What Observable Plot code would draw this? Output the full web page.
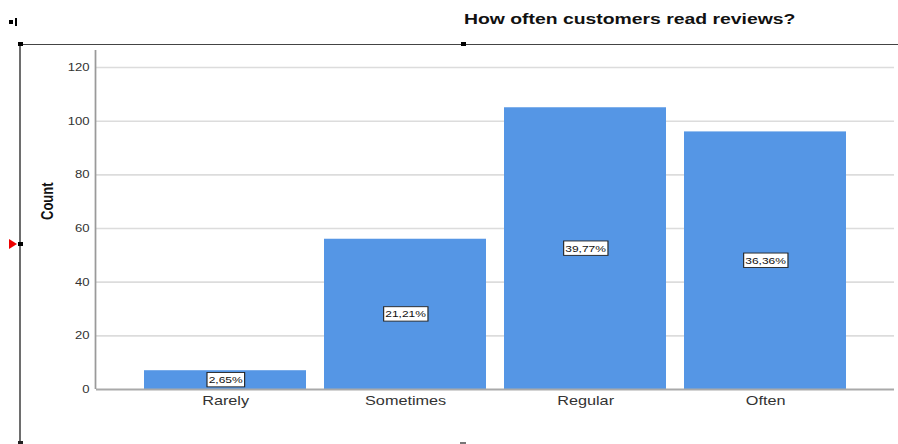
<!DOCTYPE html>
<html>
<head>
<meta charset="utf-8">
<script src="https://cdn.jsdelivr.net/npm/d3@7"></script>
<script src="https://cdn.jsdelivr.net/npm/@observablehq/plot@0.6"></script>
<style>
  html, body { margin: 0; padding: 0; background: #fff; }
  #wrap { position: relative; width: 898px; height: 444px; overflow: hidden; }
  #wrap svg { display: block; }
  .deco { position: absolute; }
</style>
</head>
<body>
<div id="wrap"></div>
<script>
// ---- data ----
const categories = ["Rarely", "Sometimes", "Regular", "Often"];
const counts = [7, 56, 105, 96];
const percentLabels = ["2,65%", "21,21%", "39,77%", "36,36%"];
const yTicks = [0, 20, 40, 60, 80, 100, 120];
const titleText = "How often customers read reviews?";
const yLabel = "Count";

const data = categories.map((c, i) => ({ category: c, count: counts[i], label: percentLabels[i] }));

// The reference is horizontally stretched; draw narrower then stretch the SVG.
const S = 1.25;
const W = 898 / S;

const font = "'Liberation Sans', Arial, Helvetica, sans-serif";

const chart = Plot.plot({
  width: W,
  height: 444,
  marginLeft: 76.8,
  marginRight: 3.2,
  marginTop: 50,
  marginBottom: 55,
  style: { fontFamily: font, background: "transparent", overflow: "visible" },
  x: { domain: categories, paddingInner: 0.1, paddingOuter: 0.05, insetLeft: 31.2, insetRight: 31.2, round: false, axis: null },
  y: { domain: [0, 126.34], axis: null },
  marks: [
    Plot.ruleY(yTicks.filter(t => t > 0), { y: d => d, stroke: "#dcdcdc", strokeWidth: 1.6 }),
    Plot.barY(data, { x: "category", y: "count", fill: "#5596e5" }),
    Plot.ruleY([0], { stroke: "#a9a9a9", strokeWidth: 1.8 }),
    Plot.text(yTicks, { y: d => d, text: d => String(d), frameAnchor: "left", dx: -5.6, textAnchor: "end", fontSize: 10.5, fill: "#333" }),
    Plot.text(categories, { x: d => d, text: d => d, frameAnchor: "bottom", dy: 15.5, fontSize: 13, fill: "#333" }),
    Plot.text(data, { x: "category", y: d => d.count / 2, text: "label", fontSize: 9.6, fill: "#111" }),
    Plot.text([yLabel], { text: d => d, frameAnchor: "left", rotate: -90, dx: -39.2, fontSize: 13, fontWeight: "bold", fill: "#111" }),
    Plot.text([titleText], { text: d => d, frameAnchor: "top", lineAnchor: "bottom", dx: 107.2, dy: -27, fontSize: 15.5, fontWeight: "bold", fill: "#111" })
  ]
});

const wrap = document.getElementById("wrap");
chart.setAttribute("width", 898);
chart.setAttribute("height", 444);
chart.setAttribute("viewBox", `0 0 ${W} 444`);
chart.setAttribute("preserveAspectRatio", "none");
wrap.appendChild(chart);

// y axis line, from the library's y scale
const ys = chart.scale("y");
const svg = d3.select(chart);
svg.append("line")
  .attr("x1", 76.4).attr("x2", 76.4)
  .attr("y1", ys.range[0]).attr("y2", ys.range[1])
  .attr("stroke", "#9a9a9a").attr("stroke-width", 1.4);

// boxes behind the percentage labels
const pctSet = new Set(percentLabels);
svg.selectAll("text").each(function () {
  if (!pctSet.has(this.textContent)) return;
  const bb = this.getBBox();
  const padX = 1.3, padY = 2.4;
  const r = document.createElementNS("http://www.w3.org/2000/svg", "rect");
  r.setAttribute("x", bb.x - padX);
  r.setAttribute("y", bb.y - padY + 0.5);
  r.setAttribute("width", bb.width + 2 * padX);
  r.setAttribute("height", bb.height + 2 * padY - 1);
  r.setAttribute("fill", "#fff");
  r.setAttribute("stroke", "#222");
  r.setAttribute("stroke-width", 0.9);
  const t = this.getAttribute("transform");
  if (t) r.setAttribute("transform", t);
  this.parentNode.insertBefore(r, this);
});

// editor-style frame decorations
function deco(style) {
  const d = document.createElement("div");
  d.className = "deco";
  Object.assign(d.style, style);
  wrap.appendChild(d);
}
deco({ left: "19px", top: "44px", width: "879px", height: "1px", background: "#444" });
deco({ left: "19px", top: "44px", width: "2px", height: "400px", background: "#6e6e6e" });
deco({ left: "18px", top: "42px", width: "5px", height: "4px", background: "#000" });
deco({ left: "461px", top: "42px", width: "5px", height: "4px", background: "#000" });
deco({ left: "18px", top: "242px", width: "5px", height: "4px", background: "#000" });
deco({ left: "18px", top: "441px", width: "5px", height: "3px", background: "#222" });
deco({ left: "9px", top: "238.5px", width: "0", height: "0", borderLeft: "8px solid #e00", borderTop: "5.5px solid transparent", borderBottom: "5.5px solid transparent" });
deco({ left: "9px", top: "20px", width: "4px", height: "4px", background: "#000" });
deco({ left: "15px", top: "18px", width: "2px", height: "8px", background: "#000" });
deco({ left: "460px", top: "442px", width: "6px", height: "2px", background: "#777" });
</script>
</body>
</html>
